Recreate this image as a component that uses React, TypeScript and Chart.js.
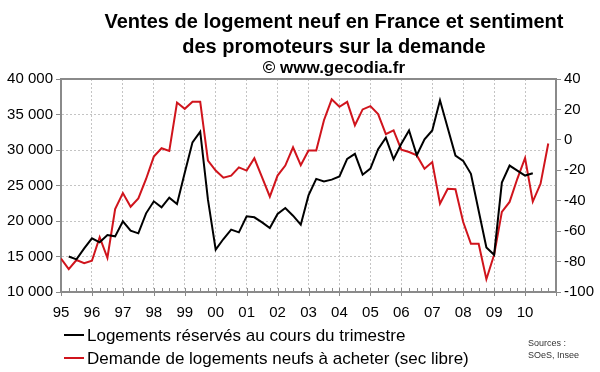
import React, { useEffect, useRef } from "react";
import { Chart, registerables } from "chart.js";

Chart.register(...registerables);

const START_YEAR = 1995;
const END_YEAR = 2011;

// x-axis year tick labels (1995 .. 2010)
const yearLabels = ["95", "96", "97", "98", "99", "00", "01", "02", "03", "04", "05", "06", "07", "08", "09", "10"];

// Logements réservés au cours du trimestre (quarterly, from 1995 Q1; left axis)
const reservations: (number | null)[] = [
  null, 15000, 14600, 16150, 17560, 17000, 18030, 17840,
  19950, 18640, 18260, 21080, 22770, 21930, 23290, 22390,
  26800, 31080, 32580, 23000, 15960, 17460, 18780, 18400,
  20660, 20520, 19810, 19010, 20990, 21830, 20750, 19480,
  23600, 25930, 25580, 25830, 26280, 28750, 29460, 26520,
  27390, 30120, 31720, 28700, 30870, 32750, 29270, 31500,
  32750, 37000, 33100, 29220, 28470, 26640, 21450, 16280,
  15240, 25410, 27810, 27100, 26400, 26720,
];

// Demande de logements neufs à acheter, solde (quarterly, from 1995 Q1; right axis)
const demandBalance: number[] = [
  -78, -85, -79, -81, -79.5, -64, -77.5, -45.5,
  -35, -44, -38.5, -25.7, -11, -5.5, -7.3, 24.5,
  20.4, 25, 25, -13.7, -20.2, -24.9, -23.5, -18.1,
  -20.2, -12.1, -24.6, -37.3, -23.5, -16.9, -4.9, -16.6,
  -7, -7, 12.9, 26.6, 21.7, 25, 9.6, 20,
  22.2, 16.9, 3.7, 6.3, -6.4, -8, -10.2, -19,
  -14.6, -42, -32.2, -32.4, -54, -68.3, -68.3, -91.6,
  -75.5, -47.3, -40.8, -25.6, -11.9, -40.6, -28.9, -2.4,
];

const seriesNames = [
  "Logements réservés au cours du trimestre",
  "Demande de logements neufs à acheter (sec libre)",
];

const FONT = "'Liberation Sans', Arial, Helvetica, sans-serif";
const AXIS_GRAY = "#8a8a8a";
const GRID_GRAY = "#c4c4c4";
const RED = "#d0141c";

const toPoints = (vals: (number | null)[]) =>
  vals
    .map((v, i) => ({ x: START_YEAR + i / 4, y: v }))
    .filter((p) => p.y !== null) as { x: number; y: number }[];

const fmtThousands = (v: number) => String(v).replace(/\B(?=(\d{3})+(?!\d))/g, " ");

const framePlugin = {
  id: "frameAndQuarterTicks",
  afterDraw(chart: any) {
    const { ctx, chartArea } = chart;
    const xs = chart.scales.x;
    ctx.save();
    ctx.strokeStyle = AXIS_GRAY;
    ctx.lineWidth = 2;
    ctx.beginPath();
    ctx.moveTo(chartArea.left, chartArea.top);
    ctx.lineTo(chartArea.right, chartArea.top);
    ctx.stroke();
    ctx.lineWidth = 1;
    const nQ = (END_YEAR - START_YEAR) * 4;
    for (let i = 0; i <= nQ; i++) {
      const px = Math.round(xs.getPixelForValue(START_YEAR + i / 4)) + 0.5;
      ctx.beginPath();
      if (i % 4 === 0) {
        ctx.moveTo(px, chartArea.bottom - 4);
        ctx.lineTo(px, chartArea.bottom + 4);
      } else {
        ctx.moveTo(px, chartArea.bottom - 4);
        ctx.lineTo(px, chartArea.bottom);
      }
      ctx.stroke();
    }
    ctx.restore();
  },
};

export default function App() {
  const canvasRef = useRef<HTMLCanvasElement | null>(null);

  useEffect(() => {
    if (!canvasRef.current) return;
    const chart = new Chart(canvasRef.current, {
      type: "line",
      data: {
        datasets: [
          {
            label: seriesNames[0],
            data: toPoints(reservations),
            borderColor: "#000000",
            borderWidth: 2,
            pointRadius: 0,
            tension: 0,
            yAxisID: "y",
          },
          {
            label: seriesNames[1],
            data: toPoints(demandBalance),
            borderColor: RED,
            borderWidth: 2,
            pointRadius: 0,
            tension: 0,
            yAxisID: "y1",
          },
        ],
      },
      options: {
        animation: false,
        responsive: false,
        events: [],
        layout: { padding: { top: 79, left: 0, right: 0, bottom: 0 } },
        plugins: {
          legend: { display: false },
          title: { display: false },
          tooltip: { enabled: false },
        },
        scales: {
          x: {
            type: "linear",
            min: START_YEAR,
            max: END_YEAR,
            afterBuildTicks: (s: any) => {
              const t = [];
              for (let y = START_YEAR; y <= END_YEAR; y++) t.push({ value: y });
              s.ticks = t;
            },
            ticks: {
              autoSkip: false,
              maxRotation: 0,
              padding: 12,
              color: "#000",
              font: { family: FONT, size: 15 },
              callback: (v: any) => yearLabels[Number(v) - START_YEAR] ?? "",
            },
            grid: { color: GRID_GRAY, lineWidth: 1, drawTicks: false },
            border: { color: AXIS_GRAY, width: 2, dash: [2, 2] },
            afterFit: (s: any) => {
              s.height = 80;
            },
          },
          y: {
            position: "left",
            min: 10000,
            max: 40000,
            ticks: {
              stepSize: 5000,
              padding: 3,
              color: "#000",
              font: { family: FONT, size: 15 },
              callback: (v: any) => fmtThousands(Number(v)),
            },
            grid: { color: GRID_GRAY, lineWidth: 1, tickLength: 5, tickColor: AXIS_GRAY },
            border: { color: AXIS_GRAY, width: 2, dash: [2, 2] },
            afterFit: (s: any) => {
              s.width = 61;
            },
          },
          y1: {
            position: "right",
            min: -100,
            max: 40,
            ticks: {
              stepSize: 20,
              padding: 3,
              color: "#000",
              font: { family: FONT, size: 15 },
            },
            grid: { drawOnChartArea: false, tickLength: 5, tickColor: AXIS_GRAY },
            border: { color: AXIS_GRAY, width: 2 },
            afterFit: (s: any) => {
              s.width = 44;
            },
          },
        },
      } as any,
      plugins: [framePlugin],
    });
    return () => chart.destroy();
  }, []);

  const textBase: React.CSSProperties = {
    position: "absolute",
    fontFamily: FONT,
    color: "#000",
    whiteSpace: "nowrap",
  };

  return (
    <div style={{ position: "absolute", left: 0, top: 0, width: 600, height: 372, background: "#fff", overflow: "hidden" }}>
      <canvas ref={canvasRef} width={600} height={372} style={{ position: "absolute", left: 0, top: 0 }} />
      <div style={{ ...textBase, left: 34, width: 600, top: 9, textAlign: "center", fontWeight: "bold", fontSize: 20, lineHeight: "24px" }}>
        Ventes de logement neuf en France et sentiment
      </div>
      <div style={{ ...textBase, left: 34, width: 600, top: 34, textAlign: "center", fontWeight: "bold", fontSize: 20, lineHeight: "24px" }}>
        des promoteurs sur la demande
      </div>
      <div style={{ ...textBase, left: 34, width: 600, top: 58, textAlign: "center", fontWeight: "bold", fontSize: 17, lineHeight: "20px" }}>
        © www.gecodia.fr
      </div>
      <div style={{ position: "absolute", left: 64, top: 334, width: 20, height: 2, background: "#000" }} />
      <div style={{ ...textBase, left: 87, top: 326, fontSize: 17, lineHeight: "20px" }}>{seriesNames[0]}</div>
      <div style={{ position: "absolute", left: 64, top: 357, width: 20, height: 2, background: RED }} />
      <div style={{ ...textBase, left: 87, top: 349, fontSize: 17, lineHeight: "20px" }}>{seriesNames[1]}</div>
      <div style={{ ...textBase, left: 528, top: 337, fontSize: 9, lineHeight: "12px", color: "#333" }}>
        Sources :<br />SOeS, Insee
      </div>
    </div>
  );
}
